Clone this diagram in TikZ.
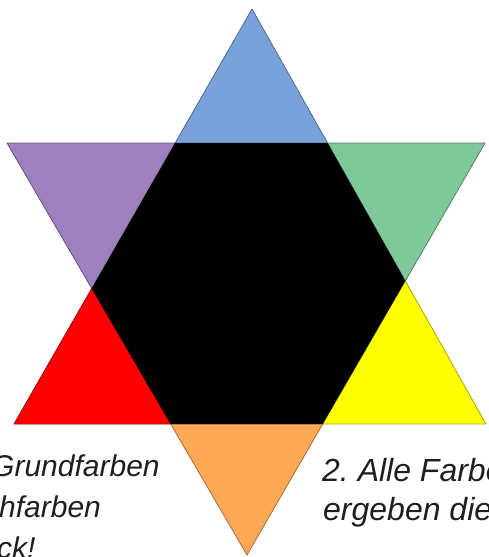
\documentclass[tikz,border=0pt]{standalone}
\usepackage{fontspec}
\setmainfont{Liberation Sans}
\usetikzlibrary{calc}

\definecolor{tipblue}{RGB}{122,162,218}
\definecolor{tippurple}{RGB}{158,128,190}
\definecolor{tipgreen}{RGB}{126,200,154}
\definecolor{tipred}{RGB}{255,0,0}
\definecolor{tipyellow}{RGB}{255,255,0}
\definecolor{tiporange}{RGB}{255,168,85}

\begin{document}
\begin{tikzpicture}[
  x=1pt, y=-1pt,
  tip/.style={draw=#1!65!black, fill=#1, line width=0.8pt, line join=round},
  hexa/.style={fill=black},
  txt/.style={anchor=base west, inner sep=0pt, text=black!88,
              font=\fontsize{30}{36}\selectfont\itshape},
  rtxt/.style={txt, font=\fontsize{32}{38}\selectfont\itshape},
]
  %% frame of the picture
  \useasboundingbox (0,0) rectangle (488,557);
  \clip (0,0) rectangle (488,557);

  %% corners of the two big triangles
  \coordinate (up)    at (252,9);
  \coordinate (upl)   at (14,424);
  \coordinate (upr)   at (486,424);
  \coordinate (dnl)   at (7,143);
  \coordinate (dnr)   at (485,143);
  \coordinate (dn)    at (247,555);

  %% corners of the hexagon
  \coordinate (h1) at (intersection of up--upl and dnl--dnr);
  \coordinate (h2) at (intersection of up--upr and dnl--dnr);
  \coordinate (h3) at (intersection of up--upr and dnr--dn);
  \coordinate (h4) at (intersection of upl--upr and dnr--dn);
  \coordinate (h5) at (intersection of upl--upr and dnl--dn);
  \coordinate (h6) at (intersection of up--upl and dnl--dn);

  %% the six tips
  \draw[tip=tipblue]   (up)  -- (h1) -- (h2) -- cycle;
  \draw[tip=tippurple] (dnl) -- (h1) -- (h6) -- cycle;
  \draw[tip=tipgreen]  (dnr) -- (h2) -- (h3) -- cycle;
  \draw[tip=tipred]    (upl) -- (h6) -- (h5) -- cycle;
  \draw[tip=tipyellow] (upr) -- (h3) -- (h4) -- cycle;
  \draw[tip=tiporange] (dn)  -- (h5) -- (h4) -- cycle;

  %% black centre
  \fill[hexa] (h1) -- (h2) -- (h3) -- (h4) -- (h5) -- (h6) -- cycle;

  %% texts (cut by the frame)
  \node[txt] (l1) at (-9,476)  {Grundfarben};
  \node[txt] (l2) at (-1,517)  {hfarben};
  \node[txt] (l3) at (-3,558)  {ck!};
  \node[rtxt] (r1) at (322,481) {2.\ Alle Farbe};
  \node[rtxt] (r2) at (323,520) {ergeben die};
\end{tikzpicture}
\end{document}
